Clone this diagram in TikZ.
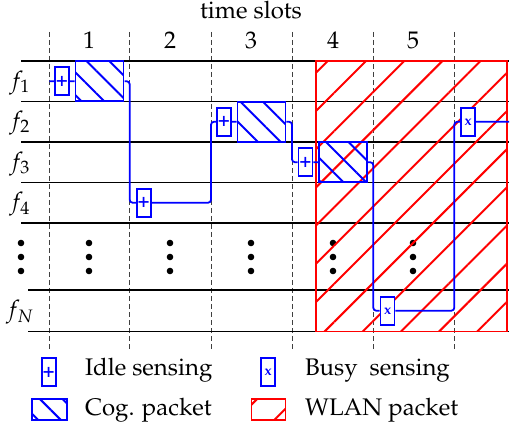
\documentclass[tikz,border=0pt]{standalone}
\usepackage[T1]{fontenc}
\usepackage{mathpazo}
\usetikzlibrary{patterns.meta,positioning}

\begin{document}
\begin{tikzpicture}[
  x=0.5pt, y=-0.5pt,
  font=\fontsize{12}{14}\selectfont,
  grid/.style={line width=0.7pt},
  slotline/.style={black!75,line width=0.5pt,dash pattern=on 2.5pt off 1.5pt},
  sense/.style={draw=blue,fill=white,line width=0.9pt,minimum width=7pt,minimum height=14pt,inner sep=0pt,text=blue,font=\fontsize{10}{10}\selectfont\bfseries},
  busy/.style={sense,font=\fontsize{7}{7}\selectfont\bfseries},
  cog/.style={draw=blue,line width=0.9pt,minimum width=24pt,minimum height=20pt,inner sep=0pt,
    pattern={Lines[angle=-45,distance=8pt,line width=1pt]},pattern color=blue},
  wlan/.style={draw=red,line width=0.6pt,
    pattern={Lines[angle=45,distance=13.5pt,line width=1pt]},pattern color=red},
  link/.style={blue,line width=0.9pt,rounded corners=1.5pt},
  keytxt/.style={anchor=base west}
]
  \useasboundingbox (0,0) rectangle (514,427);

  \node[anchor=base] (title) at (251,18.3) {time slots};
  \foreach \n/\x in {1/89,2/170,3/251,4/333,5/413}
    \node[anchor=base] (slot\n) at (\x,48.3) {\n};

  \foreach \x [count=\i] in {49.3,129.7,211,292,373.3,454.3} {
    \draw[slotline] (\x,32) -- (\x,352);
    \coordinate (b\i) at (\x,0);
  }

  \foreach \y in {61,101.5,142,182.5,223}
    \draw[grid] (21,\y) -- (509,\y);
  \foreach \y in {290,331.5}
    \draw[grid] (28,\y) -- (509,\y);

  \node (lab1) at (20,83) {$f_1$};
  \node (lab2) at (20,123.5) {$f_2$};
  \node (lab3) at (20,164) {$f_3$};
  \node (lab4) at (20,204.5) {$f_4$};
  \node (labN) at (20,312.5) {$f_N$};

  \foreach \x in {21,89,170,251,333,413}
    \foreach \y in {243,257,271}
      \fill (\x,\y) circle (1.65pt);

  \draw[wlan] (316,61) rectangle (507,331.5);

  \node[sense] (sense1) at (62,81.25) {+};
  \node[cog] (pkt1) at (99.5,81.25) {};
  \node[sense] (sense2) at (143.7,202.75) {+};
  \node[sense] (sense3) at (224,121.75) {+};
  \node[cog] (pkt2) at (261.5,121.75) {};
  \node[sense] (sense4) at (305.5,162.25) {+};
  \node[cog] (pkt3) at (343,162.25) {};
  \node[busy] (sense5) at (387.5,310.75) {x};
  \node[busy] (sense6) at (468,121.75) {x};

  \coordinate (start) at (b1 |- sense1);
  \coordinate (stop) at (509,121.75);

  \draw[link] (start) -- (sense1.west)
    (sense1.east) -- (pkt1.west)
    (pkt1.east) -| (b2 |- sense2) -- (sense2.west)
    (sense2.east) -| (b3 |- sense3) -- (sense3.west)
    (sense3.east) -- (pkt2.west)
    (pkt2.east) -| (b4 |- sense4) -- (sense4.west)
    (sense4.east) -- (pkt3.west)
    (pkt3.east) -| (b5 |- sense5) -- (sense5.west)
    (sense5.east) -| (b6 |- sense6) -- (sense6.west)
    (sense6.east) -- (stop);

  \node[sense] (keyidle) at (48.7,372) {+};
  \node[keytxt] (keyidletxt) at (78,375) {Idle sensing};
  \node[busy] (keybusy) at (268,372) {x};
  \node[keytxt] (keybusytxt) at (298,375) {Busy\ \ sensing};
  \node[cog,minimum width=17.5pt,minimum height=10.5pt] (keycog) at (49.2,409.5) {};
  \node[keytxt] (keycogtxt) at (78,415) {Cog. packet};
  \node[wlan,minimum width=17pt,minimum height=10.5pt] (keywlan) at (268.8,409.5) {};
  \node[keytxt] (keywlantxt) at (298,415) {WLAN packet};
\end{tikzpicture}
\end{document}
